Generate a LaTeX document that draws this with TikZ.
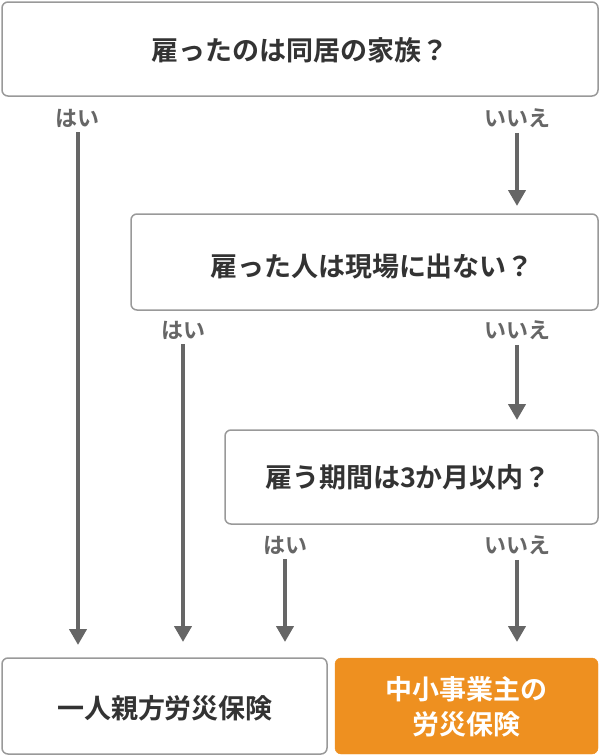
\documentclass[tikz,border=0pt]{standalone}
\usepackage{fontspec}
\setmainfont{Noto Sans CJK JP}[BoldFont={Noto Sans CJK JP Bold}]
\usetikzlibrary{arrows.meta}
\definecolor{qgray}{HTML}{999999}
\definecolor{agray}{HTML}{666666}
\definecolor{tgray}{HTML}{333333}
\definecolor{qorange}{HTML}{EE9020}
\begin{document}
\begin{tikzpicture}[x=1pt,y=-1pt,
  box/.style={draw=qgray,line width=1.5pt,rounded corners=6pt,fill=white},
  btext/.style={font=\bfseries\fontsize{27}{35}\selectfont,text=tgray,align=center},
  lab/.style={font=\bfseries\fontsize{22}{24}\selectfont,text=agray,inner sep=2pt},
  flow/.style={agray,line width=4pt,-{Triangle[width=17pt,length=16pt]}}]
  \useasboundingbox (0,0) rectangle (600,756);
  % questions
  \draw[box] (2,2) rectangle (598,96);
  \node[btext] (q1) at (300,50) {雇ったのは同居の家族？};
  \draw[box] (131,214) rectangle (598,310);
  \node[btext] (q2) at (372,266) {雇った人は現場に出ない？};
  \draw[box] (225,430) rectangle (598,524);
  \node[btext] (q3) at (408,477) {雇う期間は3か月以内？};
  % answers
  \draw[box] (2,658) rectangle (327,754);
  \node[btext] (a1) at (165,708) {一人親方労災保険};
  \draw[qorange,fill=qorange,rounded corners=6pt] (335,658) rectangle (598,754);
  \node[btext,text=white] (a2) at (466,707) {中小事業主の\\労災保険};
  % labels
  \node[lab] (y1) at (78,118) {はい};
  \node[lab] (n1) at (517,118) {いいえ};
  \node[lab] (y2) at (183,330) {はい};
  \node[lab] (n2) at (517,330) {いいえ};
  \node[lab] (y3) at (285,545) {はい};
  \node[lab] (n3) at (517,545) {いいえ};
  \coordinate (e1) at (78,645);
  \coordinate (e2) at (517,206);
  \coordinate (e3) at (183,642);
  \coordinate (e4) at (517,420);
  \coordinate (e5) at (285,642);
  \coordinate (e6) at (517,642);
  \draw[flow] (y1.south) ++(0,3) -- (e1);
  \draw[flow] (n1.south) ++(0,3) -- (e2);
  \draw[flow] (y2.south) ++(0,3) -- (e3);
  \draw[flow] (n2.south) ++(0,3) -- (e4);
  \draw[flow] (y3.south) ++(0,3) -- (e5);
  \draw[flow] (n3.south) ++(0,3) -- (e6);
\end{tikzpicture}
\end{document}
